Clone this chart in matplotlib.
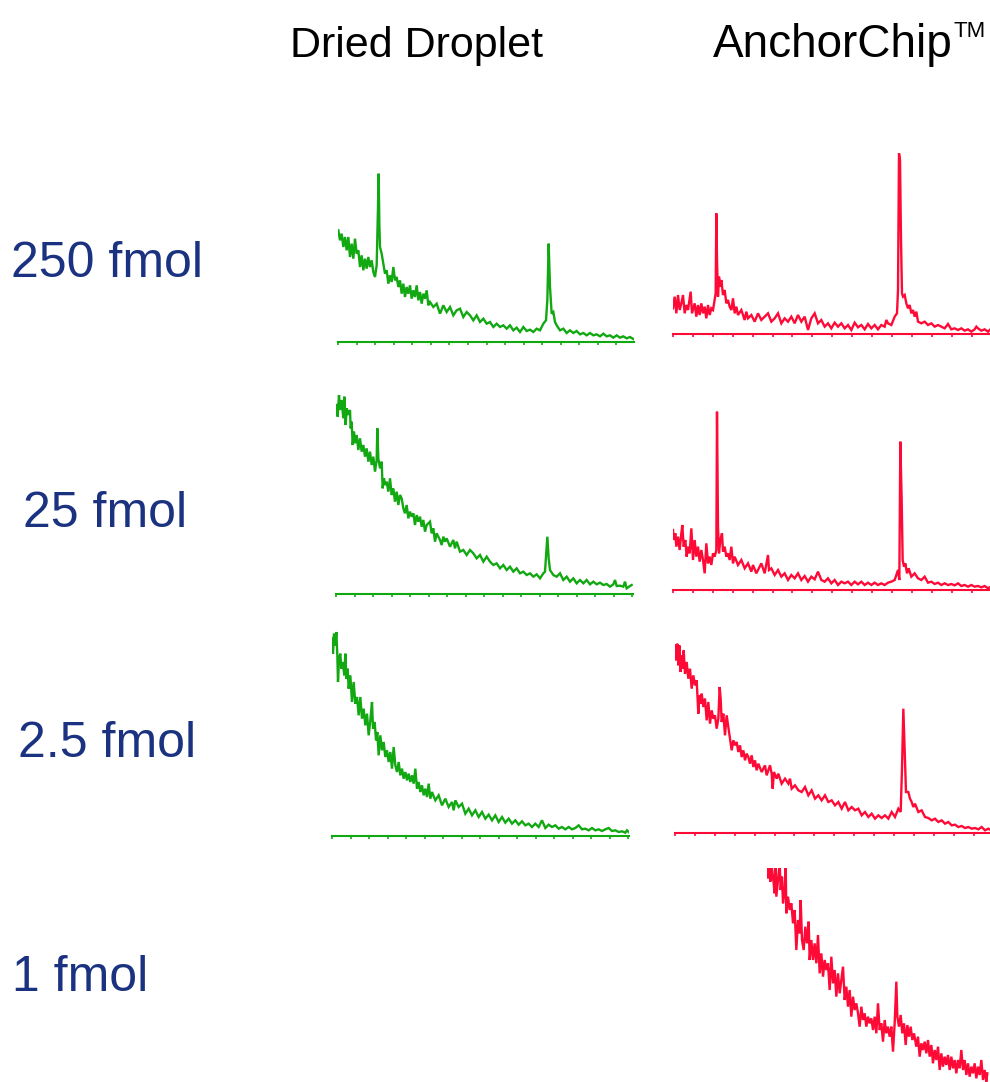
import matplotlib
matplotlib.use("Agg")
import matplotlib.pyplot as plt
import numpy as np

W, H = 990, 1082
GREEN = "#12a812"
RED = "#ff0a36"
NAVY = "#1b3281"

# spectra, channel vs intensity (a.u.)
dd250_x = [25, 30, 35, 40, 45, 50, 55, 60, 65, 70, 75, 80, 85, 90, 95, 100, 105, 110, 115, 120,
           125, 130, 135, 140, 144, 146, 148, 150, 155, 160, 165, 170, 175, 180, 185, 190, 195,
           200, 205, 210, 215, 220, 225, 230, 235, 240, 245, 250, 255, 260, 265, 270, 275, 280,
           285, 290, 295, 300, 310, 320, 330, 340, 350, 360, 370, 380, 390, 400, 410, 420, 430,
           440, 450, 460, 470, 480, 490, 500, 510, 520, 530, 540, 550, 560, 570, 580, 590, 600,
           610, 620, 630, 640, 648, 652, 656, 660, 665, 670, 675, 680, 690, 700, 710, 720, 730,
           740, 750, 760, 770, 780, 790, 800, 810, 820, 830, 840, 850, 860, 870, 880, 890, 900, 910]
dd250_y = [335, 305, 325, 285, 315, 275, 315, 255, 295, 250, 310, 265, 275, 225, 260, 215, 250, 220,
           255, 225, 245, 210, 195, 230, 405, 505, 355, 285, 265, 235, 205, 215, 175, 200, 180, 225,
           185, 195, 165, 185, 145, 175, 135, 165, 145, 170, 130, 155, 135, 170, 125, 150, 115, 145,
           130, 155, 110, 120, 105, 115, 85, 110, 90, 105, 80, 95, 100, 75, 90, 80, 65, 80, 60, 70,
           55, 60, 45, 55, 45, 50, 40, 50, 35, 43, 30, 45, 33, 37, 30, 40, 35, 55, 65, 125, 295, 165,
           85, 90, 60, 50, 35, 40, 27, 35, 27, 33, 23, 27, 20, 27, 20, 23, 17, 25, 17, 20, 13, 20, 13,
           17, 11, 15, 9]

ac250_x = [25, 30, 35, 40, 45, 50, 55, 60, 65, 70, 78, 82, 90, 95, 100, 105, 110, 115, 120, 125,
           130, 135, 140, 145, 150, 153, 155, 157, 160, 163, 167, 170, 175, 180, 185, 190, 195,
           200, 205, 210, 215, 220, 230, 240, 245, 250, 260, 270, 280, 290, 300, 310, 320, 330,
           340, 350, 360, 370, 380, 390, 400, 410, 420, 430, 440, 450, 460, 470, 480, 490, 500,
           510, 520, 530, 540, 550, 560, 570, 580, 590, 600, 610, 620, 630, 640, 650, 660, 665,
           670, 680, 690, 697, 700, 703, 706, 709, 712, 715, 720, 725, 730, 735, 740, 745, 750,
           755, 760, 770, 780, 790, 800, 810, 820, 830, 840, 850, 860, 870, 880, 890, 900, 910,
           920, 930, 935, 940, 950, 960, 970, 975]
ac250_y = [77, 112, 62, 117, 72, 92, 117, 62, 87, 72, 127, 62, 92, 52, 87, 57, 92, 62, 82, 47, 87,
           57, 77, 72, 102, 122, 362, 222, 112, 172, 142, 162, 117, 132, 92, 102, 82, 72, 107, 62,
           82, 57, 72, 42, 67, 47, 57, 37, 62, 42, 52, 62, 37, 47, 62, 32, 47, 37, 52, 32, 57, 37,
           52, 12, 47, 62, 32, 42, 22, 32, 17, 34, 22, 32, 17, 27, 12, 34, 20, 27, 14, 30, 17, 27,
           14, 27, 22, 42, 32, 27, 52, 62, 132, 542, 522, 282, 122, 112, 117, 92, 77, 87, 62, 72,
           52, 67, 37, 32, 37, 27, 32, 22, 27, 22, 17, 30, 14, 17, 12, 17, 10, 14, 7, 14, 22, 17,
           10, 14, 7, 12]

dd25_x = [20, 23, 27, 30, 35, 40, 43, 47, 50, 55, 60, 62, 65, 68, 72, 75, 80, 85, 90, 95, 100,
          105, 110, 115, 120, 125, 130, 135, 140, 142, 145, 150, 155, 158, 162, 165, 170, 175,
          180, 185, 190, 195, 200, 205, 210, 215, 220, 225, 230, 235, 240, 245, 250, 255, 260,
          265, 270, 275, 280, 285, 290, 300, 305, 310, 315, 320, 330, 335, 340, 345, 350, 360,
          370, 375, 380, 390, 400, 410, 420, 430, 440, 450, 460, 470, 480, 490, 500, 510, 520,
          530, 540, 550, 560, 570, 580, 590, 600, 610, 620, 630, 640, 645, 649, 652, 656, 660,
          670, 680, 690, 700, 710, 720, 730, 740, 750, 760, 770, 780, 790, 800, 810, 820, 830,
          840, 850, 855, 860, 870, 880, 885, 890, 900, 905]
dd25_y = [567, 532, 597, 552, 582, 527, 592, 507, 557, 537, 552, 497, 517, 447, 487, 452, 477,
          432, 467, 427, 447, 412, 437, 397, 427, 387, 412, 367, 402, 497, 407, 377, 397, 317,
          347, 327, 337, 307, 347, 297, 317, 277, 307, 267, 297, 287, 257, 242, 267, 227, 247,
          232, 242, 207, 237, 217, 232, 202, 222, 187, 207, 217, 182, 197, 157, 182, 162, 147,
          172, 157, 167, 142, 162, 137, 157, 127, 132, 117, 132, 122, 107, 117, 97, 112, 97, 87,
          92, 77, 87, 72, 82, 67, 77, 62, 67, 57, 62, 52, 59, 47, 62, 67, 127, 172, 107, 72, 57,
          52, 62, 42, 52, 37, 47, 32, 42, 32, 42, 29, 37, 29, 34, 27, 30, 22, 29, 42, 24, 25, 22,
          37, 17, 24, 27]

ac25_x = [25, 28, 32, 35, 40, 45, 50, 53, 57, 62, 66, 70, 75, 80, 85, 90, 95, 100, 105, 110, 115,
          120, 125, 130, 135, 140, 145, 150, 155, 157, 160, 163, 167, 172, 175, 180, 185, 190,
          195, 200, 205, 210, 220, 230, 240, 250, 260, 265, 275, 285, 290, 300, 310, 313, 320,
          330, 340, 350, 360, 370, 380, 390, 400, 410, 420, 430, 440, 450, 460, 470, 480, 490,
          500, 510, 520, 530, 540, 550, 560, 570, 580, 590, 600, 610, 620, 630, 640, 650, 660,
          670, 680, 690, 700, 704, 707, 711, 714, 718, 722, 727, 732, 740, 750, 760, 770, 780,
          790, 800, 810, 820, 830, 840, 850, 860, 870, 880, 890, 900, 910, 920, 930, 940, 950,
          960, 970, 975]
ac25_y = [180, 150, 170, 130, 160, 120, 170, 195, 130, 150, 100, 130, 110, 185, 90, 150, 100,
          130, 85, 120, 90, 50, 140, 80, 100, 75, 110, 100, 120, 535, 190, 110, 150, 170, 115,
          130, 100, 110, 90, 130, 80, 100, 75, 90, 65, 80, 55, 75, 50, 70, 80, 50, 105, 60, 65,
          45, 60, 40, 50, 30, 45, 35, 50, 30, 42, 25, 40, 32, 55, 30, 25, 35, 20, 30, 15, 25, 20,
          25, 15, 25, 17, 25, 15, 22, 15, 22, 15, 20, 15, 22, 25, 30, 60, 30, 445, 270, 90, 70,
          80, 50, 65, 40, 50, 35, 30, 40, 22, 25, 18, 22, 15, 20, 15, 18, 14, 20, 12, 15, 10, 15,
          10, 12, 8, 12, 5, 8]

dd2_x = [20, 23, 26, 30, 33, 36, 38, 41, 45, 48, 52, 57, 60, 63, 67, 70, 75, 80, 85, 90, 95, 100,
         105, 110, 115, 120, 125, 130, 135, 140, 143, 148, 152, 156, 160, 165, 170, 175, 180,
         185, 190, 195, 200, 205, 210, 215, 220, 225, 230, 235, 240, 245, 250, 255, 260, 265,
         270, 275, 280, 285, 290, 295, 300, 305, 310, 315, 320, 330, 340, 350, 360, 370, 380,
         385, 390, 400, 410, 420, 430, 440, 450, 460, 470, 480, 490, 500, 510, 520, 530, 540,
         550, 560, 570, 580, 590, 600, 610, 620, 630, 640, 650, 660, 670, 680, 690, 700, 710,
         720, 730, 740, 750, 760, 770, 780, 790, 800, 810, 820, 830, 840, 850, 860, 870, 880,
         890, 900, 905, 910]
dd2_y = [592, 547, 607, 572, 612, 542, 462, 532, 547, 502, 522, 482, 547, 472, 502, 442, 482,
         402, 462, 397, 417, 362, 417, 352, 382, 332, 367, 302, 347, 402, 322, 342, 287, 312,
         242, 302, 257, 282, 237, 257, 222, 252, 202, 267, 212, 192, 222, 182, 202, 172, 192,
         167, 187, 162, 182, 157, 202, 142, 162, 132, 152, 122, 142, 117, 157, 112, 132, 107,
         122, 92, 112, 87, 102, 77, 107, 87, 97, 67, 82, 62, 77, 57, 72, 52, 64, 47, 62, 42, 57,
         40, 52, 37, 47, 34, 44, 32, 37, 27, 37, 27, 47, 24, 34, 27, 32, 22, 27, 20, 27, 20, 24,
         32, 20, 22, 17, 24, 17, 20, 15, 20, 24, 15, 17, 12, 14, 10, 17, 12]

ac2_x = [30, 33, 37, 40, 43, 47, 50, 53, 56, 60, 65, 70, 75, 80, 85, 90, 95, 100, 103, 107, 110,
         115, 120, 125, 130, 135, 140, 145, 150, 155, 160, 164, 167, 170, 175, 180, 185, 190,
         195, 200, 205, 210, 215, 220, 225, 230, 235, 240, 245, 250, 255, 260, 265, 270, 275,
         280, 290, 300, 305, 315, 320, 323, 327, 335, 340, 350, 360, 370, 375, 380, 390, 400,
         410, 420, 430, 440, 450, 460, 470, 480, 490, 500, 510, 520, 530, 540, 550, 560, 570,
         580, 590, 600, 610, 620, 630, 640, 650, 660, 670, 680, 690, 700, 707, 711, 715, 719,
         723, 730, 735, 740, 745, 750, 760, 770, 780, 790, 800, 810, 820, 830, 840, 850, 860,
         870, 880, 890, 900, 910, 920, 930, 940, 950, 960, 970, 975]
ac2_y = [563, 518, 568, 503, 563, 483, 533, 493, 548, 478, 513, 463, 493, 433, 473, 443, 458,
         358, 413, 388, 418, 378, 403, 338, 393, 328, 368, 343, 353, 313, 343, 438, 403, 333,
         358, 293, 353, 318, 283, 248, 278, 263, 273, 243, 263, 228, 248, 218, 238, 228, 208,
         233, 198, 218, 188, 208, 183, 203, 173, 203, 178, 133, 183, 163, 178, 148, 163, 148,
         163, 133, 143, 128, 123, 138, 113, 128, 103, 113, 98, 113, 93, 98, 83, 93, 73, 93, 68,
         78, 68, 73, 53, 63, 48, 58, 43, 53, 45, 53, 43, 63, 48, 73, 63, 193, 373, 243, 123,
         123, 103, 93, 78, 88, 63, 68, 48, 45, 38, 43, 33, 38, 28, 33, 23, 25, 18, 21, 15, 18,
         13, 15, 11, 18, 8, 13, 10]

ac1_x = [22, 25, 28, 32, 35, 40, 45, 48, 50, 55, 60, 63, 67, 70, 75, 78, 80, 85, 90, 95, 100,
         105, 110, 115, 120, 123, 127, 132, 137, 142, 147, 150, 155, 160, 165, 170, 175, 180,
         185, 190, 195, 200, 205, 210, 215, 220, 225, 230, 235, 240, 245, 250, 255, 260, 265,
         270, 275, 280, 285, 290, 295, 300, 305, 310, 315, 320, 325, 330, 335, 340, 345, 350,
         355, 360, 365, 370, 375, 380, 385, 390, 395, 400, 405, 410, 413, 418, 423, 428, 433,
         438, 443, 448, 453, 458, 463, 470, 475, 480, 485, 490, 495, 500, 505, 510, 515, 520,
         525, 530, 535, 540, 545, 550, 555, 560, 565, 570, 575, 580, 585, 590, 595, 600, 605,
         610, 615, 620, 625, 630, 635, 640, 645, 650, 655, 660, 665, 670, 675, 680, 683]
ac1_y = [680, 635, 680, 625, 680, 640, 590, 680, 580, 630, 680, 600, 640, 560, 600, 680, 530,
         580, 540, 560, 500, 540, 420, 510, 470, 570, 450, 420, 490, 440, 505, 390, 450, 390,
         440, 380, 465, 350, 410, 340, 390, 360, 380, 300, 400, 320, 360, 280, 350, 290, 330,
         370, 270, 310, 250, 300, 220, 280, 240, 260, 230, 190, 250, 210, 230, 190, 220, 200,
         215, 180, 220, 170, 260, 180, 200, 145, 210, 170, 190, 160, 190, 115, 200, 325, 220,
         190, 225, 170, 200, 135, 195, 160, 190, 150, 170, 130, 160, 100, 140, 120, 145, 110,
         150, 100, 135, 80, 120, 90, 130, 60, 110, 70, 100, 75, 105, 60, 100, 65, 90, 50, 90,
         65, 120, 60, 90, 45, 80, 40, 70, 50, 80, 35, 70, 45, 90, 30, 60, 25, 50]

# panel boxes in pixels: left, baseline, width, height, first channel, tick step
panels = [
    (dd250_x, dd250_y, GREEN, 338, 342, 296, 220, 24, 55.7),
    (ac250_x, ac250_y, RED, 673, 334, 317, 220, 25, 59.7),
    (dd25_x, dd25_y, GREEN, 336, 594, 297, 220, 18, 55.5),
    (ac25_x, ac25_y, RED, 673, 590, 317, 220, 25, 59.7),
    (dd2_x, dd2_y, GREEN, 332, 836, 297, 220, 20, 55.5),
    (ac2_x, ac2_y, RED, 675, 833, 315, 220, 30, 59.7),
    (ac1_x, ac1_y, RED, 767, 1090, 223, 222, 22, None),
]

fig = plt.figure(figsize=(W / 100, H / 100), dpi=100)

for x, y, col, left, base, w, h, x0, step in panels:
    ax = fig.add_axes([left / W, 1 - base / H, w / W, h / H])
    ax.plot(x, y, color=col, lw=1.7, solid_joinstyle="miter")
    ax.set_xlim(x0, x0 + 3 * w)
    ax.set_ylim(0, 3 * h)
    ax.patch.set_visible(False)
    for s in ("top", "right", "left"):
        ax.spines[s].set_visible(False)
    ax.set_yticks([])
    if step is None:
        ax.spines["bottom"].set_visible(False)
        ax.set_xticks([])
    else:
        ax.spines["bottom"].set_color(col)
        ax.spines["bottom"].set_linewidth(1.5)
        ax.set_xticks(np.arange(x0, x0 + 3 * w, step))
        ax.tick_params(axis="x", direction="out", length=2.5, width=1.2,
                       color=col, labelbottom=False)

def ftext(px, py, s, **kw):
    return fig.text(px / W, 1 - py / H, s, **kw)

ftext(290, 57, "Dried Droplet", fontsize=31, family="Liberation Sans", va="baseline", ha="left")
t = ftext(713, 57, "AnchorChip", fontsize=33, family="Liberation Sans", va="baseline", ha="left")
fig.canvas.draw()
bb = t.get_window_extent()
fig.text(bb.x1 / W + 0.001, 1 - 37 / H, "TM", fontsize=16, family="Liberation Sans",
         va="baseline", ha="left")

concs = ["250 fmol", "25 fmol", "2.5 fmol", "1 fmol"]
label_pos = [(11, 277), (23, 527), (18, 757), (12, 991)]
for s, (lx, ly) in zip(concs, label_pos):
    ftext(lx, ly, s, fontsize=36, family="Liberation Sans", color=NAVY, va="baseline", ha="left")

fig.savefig("out.png", dpi=100)
